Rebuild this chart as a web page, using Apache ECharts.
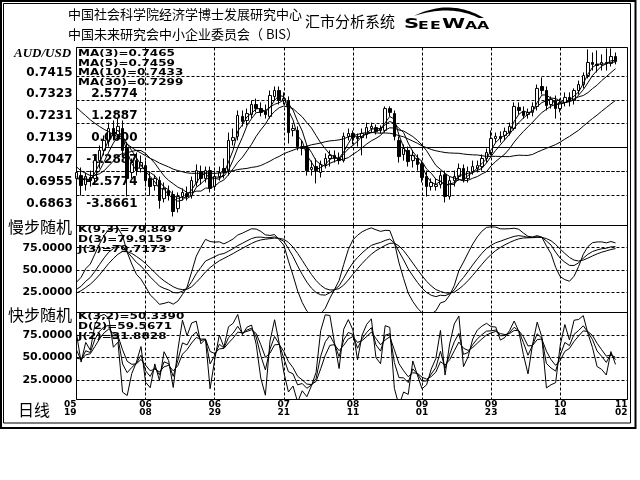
<!DOCTYPE html>
<html><head><meta charset="utf-8">
<script src="https://cdn.jsdelivr.net/npm/echarts@6/dist/echarts.min.js"></script>
<style>html,body{margin:0;padding:0;background:#fff}#c{width:640px;height:480px}</style>
</head><body><div id="c"></div>
<script>
// ---------- data ----------
const xTickLabels = ['05\n19','06\n08','06\n29','07\n21','08\n11','09\n01','09\n23','10\n14','11\n02'];
const priceGrid = [0.6863,0.6955,0.7047,0.7231,0.7323,0.7415];
const priceZero = 0.7139;
const kdGrid = [25,50,75];
const prevCloses = [0.7465,0.7482,0.7491,0.7474,0.7499,0.7486,0.7478,0.7486,0.7508,0.7499,0.7478,0.7449,0.7398,0.7339,0.7297,0.7272,0.7234,0.7204,0.7171,0.7137,0.7112,0.7078,0.7053,0.7036,0.7019,0.7002,0.6973,0.6952,0.6960];
const opens = [0.6969,0.6981,0.6943,0.6973,0.6969,0.7044,0.7087,0.7124,0.7179,0.7154,
0.7179,0.7095,0.6994,0.7044,0.7011,0.7023,0.6969,0.6939,0.6960,0.6884,
0.6918,0.6901,0.6842,0.6893,0.6905,0.6897,0.6952,0.6998,0.6969,0.7002,
0.6935,0.6977,0.7011,0.7002,0.7129,0.7146,0.7230,0.7213,0.7238,0.7280,
0.7263,0.7251,0.7230,0.7314,0.7339,0.7297,0.7297,0.7171,0.7171,0.7103,
0.7095,0.7007,0.7019,0.6994,0.7028,0.7053,0.7066,0.7053,0.7044,0.7146,
0.7158,0.7141,0.7141,0.7154,0.7179,0.7183,0.7171,0.7171,0.7263,0.7242,
0.7129,0.7070,0.7087,0.7044,0.7053,0.7028,0.6977,0.6935,0.6935,0.6943,
0.6985,0.6893,0.6960,0.6977,0.7011,0.6969,0.6998,0.7011,0.7019,0.7053,
0.7078,0.7137,0.7146,0.7150,0.7162,0.7179,0.7268,0.7251,0.7238,0.7247,
0.7272,0.7356,0.7339,0.7280,0.7297,0.7263,0.7289,0.7310,0.7297,0.7339,
0.7364,0.7402,0.7457,0.7449,0.7449,0.7457,0.7453,0.7482];
const closes = [0.6994,0.6939,0.6977,0.6960,0.7044,0.7087,0.7129,0.7179,0.7150,0.7188,
0.7087,0.6969,0.7036,0.7002,0.7036,0.6960,0.6935,0.6969,0.6876,0.6927,
0.6897,0.6830,0.6893,0.6910,0.6893,0.6960,0.7002,0.6969,0.7002,0.6927,
0.6977,0.6994,0.6994,0.7129,0.7141,0.7234,0.7209,0.7242,0.7280,0.7263,
0.7247,0.7238,0.7318,0.7339,0.7297,0.7305,0.7162,0.7179,0.7103,0.7095,
0.7002,0.7015,0.7002,0.7028,0.7053,0.7066,0.7053,0.7044,0.7146,0.7158,
0.7141,0.7137,0.7158,0.7183,0.7188,0.7167,0.7179,0.7263,0.7247,0.7146,
0.7061,0.7095,0.7040,0.7066,0.7028,0.6973,0.6935,0.6952,0.6943,0.6981,
0.6893,0.6960,0.6977,0.7011,0.6964,0.6998,0.7019,0.7023,0.7053,0.7078,
0.7137,0.7146,0.7137,0.7167,0.7188,0.7272,0.7255,0.7234,0.7247,0.7272,
0.7348,0.7339,0.7276,0.7301,0.7263,0.7289,0.7310,0.7297,0.7339,0.7364,
0.7402,0.7457,0.7449,0.7444,0.7457,0.7453,0.7482,0.7461];
const highs = [0.7011,0.7015,0.6994,0.7002,0.7066,0.7108,0.7150,0.7204,0.7213,0.7221,
0.7213,0.7120,0.7053,0.7078,0.7066,0.7044,0.6994,0.6985,0.6977,0.6952,
0.6939,0.6918,0.6910,0.6927,0.6935,0.6977,0.7028,0.7023,0.7019,0.7019,
0.7002,0.7019,0.7053,0.7162,0.7179,0.7255,0.7255,0.7263,0.7297,0.7305,
0.7289,0.7280,0.7339,0.7356,0.7356,0.7331,0.7314,0.7196,0.7188,0.7129,
0.7108,0.7044,0.7053,0.7044,0.7074,0.7087,0.7087,0.7078,0.7162,0.7179,
0.7171,0.7158,0.7179,0.7204,0.7204,0.7196,0.7192,0.7272,0.7272,0.7255,
0.7146,0.7112,0.7103,0.7087,0.7070,0.7044,0.7002,0.6969,0.6969,0.7002,
0.7002,0.6977,0.7002,0.7032,0.7028,0.7019,0.7044,0.7044,0.7070,0.7095,
0.7171,0.7162,0.7167,0.7183,0.7204,0.7289,0.7289,0.7272,0.7263,0.7289,
0.7364,0.7394,0.7356,0.7314,0.7318,0.7305,0.7331,0.7331,0.7348,0.7381,
0.7415,0.7512,0.7499,0.7508,0.7491,0.7516,0.7516,0.7499];
const lows = [0.6939,0.6897,0.6918,0.6935,0.6952,0.7011,0.7066,0.7103,0.7129,0.7129,
0.7066,0.6893,0.6969,0.6981,0.6994,0.6935,0.6897,0.6918,0.6842,0.6868,
0.6876,0.6809,0.6826,0.6876,0.6876,0.6884,0.6935,0.6943,0.6952,0.6910,
0.6918,0.6960,0.6969,0.6981,0.7108,0.7129,0.7188,0.7192,0.7221,0.7247,
0.7230,0.7221,0.7221,0.7297,0.7280,0.7280,0.7116,0.7146,0.7087,0.7066,
0.6981,0.6981,0.6948,0.6973,0.7011,0.7019,0.7036,0.7028,0.7036,0.7129,
0.7112,0.7103,0.7066,0.7137,0.7162,0.7154,0.7158,0.7162,0.7230,0.7129,
0.7036,0.7044,0.7019,0.7015,0.7002,0.6952,0.6893,0.6918,0.6918,0.6927,
0.6868,0.6880,0.6935,0.6960,0.6952,0.6952,0.6985,0.6994,0.7002,0.7036,
0.7066,0.7120,0.7120,0.7129,0.7150,0.7171,0.7238,0.7221,0.7221,0.7230,
0.7255,0.7322,0.7255,0.7263,0.7221,0.7247,0.7272,0.7272,0.7280,0.7322,
0.7348,0.7390,0.7423,0.7415,0.7423,0.7423,0.7440,0.7449];
const maPeriods = [3,5,10,30];
const maTexts = ['MA(3)=0.7465','MA(5)=0.7459','MA(10)=0.7433','MA(30)=0.7299'];
const slowTexts = ['K(9,3)=79.8497','D(3)=79.9159','J(3)=79.7173'];
const fastTexts = ['K(3,2)=50.3390','D(2)=59.5671','J(2)=31.8828'];
const slowStart = [22, 22];
const fastStart = [40, 40];

// ---------- derived indicators ----------
const allCloses = prevCloses.concat(closes);
function calcMA(n){
  const out=[];
  for(let i=0;i<closes.length;i++){
    let s=0; for(let j=0;j<n;j++) s+=allCloses[i+prevCloses.length-j];
    out.push([i, s/n]);
  }
  return out;
}
function rsvAt(i, n){
  let hh=-Infinity, ll=Infinity;
  for(let j=Math.max(0,i-n+1);j<=i;j++){ hh=Math.max(hh,highs[j]); ll=Math.min(ll,lows[j]); }
  return hh>ll ? (closes[i]-ll)/(hh-ll)*100 : 50;
}
// slow stochastic: raw K smoothed, then smoothed again (slow K), D of slow K
function calcSlowKD(n, m, k0, d0){
  const K=[],D=[],J=[]; let fk=k0, k=k0, d=d0;
  for(let i=0;i<closes.length;i++){
    fk=((m-1)*fk+rsvAt(i,n))/m; k=((m-1)*k+fk)/m; d=((m-1)*d+k)/m;
    K.push([i,k]); D.push([i,d]); J.push([i,3*k-2*d]);
  }
  return [K,D,J];
}
function calcFastKD(n, m, k0, d0){
  const K=[],D=[],J=[]; let k=k0, d=d0;
  for(let i=0;i<closes.length;i++){
    k=((m-1)*k+rsvAt(i,n))/m; d=((m-1)*d+k)/m;
    K.push([i,k]); D.push([i,d]); J.push([i,3*k-2*d]);
  }
  return [K,D,J];
}
const slowKD = calcSlowKD(9,3,slowStart[0],slowStart[1]);
const fastKD = calcFastKD(3,2,fastStart[0],fastStart[1]);
const candleData = closes.map((c,i)=>[i, opens[i], c, lows[i], highs[i]]);

// ---------- chart ----------
const chart = echarts.init(document.getElementById('c'), null, {renderer:'canvas'});
const NUM = '"DejaVu Sans"';
const CJK = '"Noto Sans CJK SC"';
const dot = [3,2];
const gridL = 76.5, gridW = 551;
const xMax = 119.6;
function xAxisDef(idx, showLabel){
  return {
    type:'value', gridIndex: idx, min:0, max:xMax, interval:15,
    axisLine:{show:false}, axisTick:{show:false},
    splitLine:{show:true, lineStyle:{color:'#000', width:1, type:dot}},
    axisLabel: showLabel ? {
      show:true, margin:1, color:'#000', fontFamily:NUM, fontWeight:'bold', fontSize:9, lineHeight:8,
      showMinLabel:true, showMaxLabel:true, alignMinLabel:'right', alignMaxLabel:'right',
      formatter: v => v > 110 ? xTickLabels[8] : xTickLabels[Math.round(v/15)]
    } : {show:false}
  };
}
function hLines(vals, solidVal){
  const data = vals.map(v=>({yAxis:v}));
  if (solidVal !== undefined) data.push({yAxis:solidVal, lineStyle:{type:'solid'}});
  return {silent:true, z:1, symbol:['none','none'], label:{show:false},
    lineStyle:{color:'#000', width:1, type:dot}, data};
}
function lineSeries(data, xi, yi, extra){
  return Object.assign({type:'line', xAxisIndex:xi, yAxisIndex:yi, data, symbol:'none', showSymbol:false,
    lineStyle:{color:'#000', width:1}, silent:true, z:3, clip:true}, extra||{});
}
const txt = (t,x,y,font,extra)=>Object.assign({type:'text', x, y, z:100, silent:true,
  style:{text:t, font, fill:'#000', align:'left', verticalAlign:'middle', textAlign:'left', textVerticalAlign:'middle'}}, extra||{});
const labelFont = 'bold 12px '+NUM;

// logo swoosh outline (two quadratic curves)
function quad(p0,p1,p2,n){ const pts=[]; for(let i=0;i<=n;i++){const t=i/n,a=(1-t)*(1-t),b=2*t*(1-t),c=t*t; pts.push([a*p0[0]+b*p1[0]+c*p2[0], a*p0[1]+b*p1[1]+c*p2[1]]);} return pts; }
const swoosh = quad([414,16],[450,-2],[484,18],24).concat(quad([479,18],[450,4],[414,16],24));

const graphics = [
  {type:'rect', z:100, silent:true, shape:{x:1, y:1, width:634.5, height:427}, style:{fill:'none', stroke:'#000', lineWidth:2}},
  {type:'rect', z:100, silent:true, shape:{x:3.5, y:3.5, width:627, height:419.5}, style:{fill:'none', stroke:'#000', lineWidth:1}},
  txt('中国社会科学院经济学博士发展研究中心', 68, 14, '13px '+CJK),
  txt('中国未来研究会中小企业委员会（ BIS）', 68, 34, '13px '+CJK),
  txt('汇市分析系统', 305, 21, '15px '+CJK),
  {type:'polygon', z:100, silent:true, shape:{points:swoosh}, style:{fill:'#000'}},
  {type:'group', x:404, y:31.5, scaleX:1.5, z:100, children:[
    {type:'text', x:0, y:0, style:{text:'S', font:'bold 14px '+NUM, fill:'#000', verticalAlign:'bottom', textVerticalAlign:'bottom'}},
    {type:'text', x:9.3, y:0, style:{text:'E', font:'bold 10.5px '+NUM, fill:'#000', verticalAlign:'bottom', textVerticalAlign:'bottom'}},
    {type:'text', x:17.3, y:0, style:{text:'E', font:'bold 10.5px '+NUM, fill:'#000', verticalAlign:'bottom', textVerticalAlign:'bottom'}},
    {type:'text', x:25.3, y:0, style:{text:'W', font:'bold 14px '+NUM, fill:'#000', verticalAlign:'bottom', textVerticalAlign:'bottom'}},
    {type:'text', x:40.7, y:0, style:{text:'A', font:'bold 10.5px '+NUM, fill:'#000', verticalAlign:'bottom', textVerticalAlign:'bottom'}},
    {type:'text', x:48.7, y:0, style:{text:'A', font:'bold 10.5px '+NUM, fill:'#000', verticalAlign:'bottom', textVerticalAlign:'bottom'}}
  ]},
  txt('AUD/USD', 14, 54, 'italic bold 13px "Liberation Serif"'),
  txt('慢步随机', 8, 226.5, '16px '+CJK),
  txt('快步随机', 8, 314.5, '16px '+CJK),
  txt('日线', 18, 409.5, '16px '+CJK)
];
maTexts.forEach((t,i)=>graphics.push(txt(t, 78, 53.5+i*9.6, labelFont, {scaleY:0.78})));
slowTexts.forEach((t,i)=>graphics.push(txt(t, 78, 229.5+i*10, labelFont, {scaleY:0.78})));
fastTexts.forEach((t,i)=>graphics.push(txt(t, 78, 316.7+i*10, labelFont, {scaleY:0.78})));

const option = {
  animation:false,
  backgroundColor:'#fff',
  grid:[
    {left:gridL, top:47.5, width:gridW, height:178, show:true, borderColor:'#000', borderWidth:1, backgroundColor:'transparent'},
    {left:gridL, top:225.5, width:gridW, height:87, show:true, borderColor:'#000', borderWidth:1, backgroundColor:'transparent'},
    {left:gridL, top:312.5, width:gridW, height:87, show:true, borderColor:'#000', borderWidth:1, backgroundColor:'transparent'}
  ],
  xAxis:[xAxisDef(0,false), xAxisDef(1,false), xAxisDef(2,true)],
  yAxis:[
    {type:'value', gridIndex:0, min:0.6771, max:0.7520, interval:0.0092, position:'left',
      axisLine:{show:false}, axisTick:{show:false}, splitLine:{show:false},
      axisLabel:{margin:4, color:'#000', fontFamily:NUM, fontWeight:'bold', fontSize:12,
        formatter: v => (v>0.68 && v<0.745) ? v.toFixed(4) : ''}},
    {type:'value', gridIndex:0, min:-5.1548, max:5.3369, interval:1.2887, position:'left',
      axisLine:{show:false}, axisTick:{show:false}, splitLine:{show:false},
      axisLabel:{inside:true, align:'right', margin:61, color:'#000', fontFamily:NUM, fontWeight:'bold', fontSize:12,
        formatter: v => (v>-3.9 && v<2.6) ? (Math.abs(v)<1e-6 ? '0.0000' : v.toFixed(4)) : ''}},
    {type:'value', gridIndex:1, min:2, max:100, position:'left',
      axisLine:{show:false}, axisTick:{show:false, customValues:kdGrid}, splitLine:{show:false},
      axisLabel:{customValues:kdGrid, margin:4, color:'#000', fontFamily:NUM, fontWeight:'bold', fontSize:11,
        formatter: v => v.toFixed(4)}},
    {type:'value', gridIndex:2, min:3, max:100, position:'left',
      axisLine:{show:false}, axisTick:{show:false, customValues:kdGrid}, splitLine:{show:false},
      axisLabel:{customValues:kdGrid, margin:4, color:'#000', fontFamily:NUM, fontWeight:'bold', fontSize:11,
        formatter: v => v.toFixed(4)}}
  ],
  series:[
    {type:'candlestick', xAxisIndex:0, yAxisIndex:0, data:candleData, barWidth:3, silent:true, z:2,
      itemStyle:{color:'#fff', color0:'#000', borderColor:'#000', borderColor0:'#000', borderWidth:1},
      markLine:hLines(priceGrid, priceZero)},
    ...maPeriods.map(n=>lineSeries(calcMA(n),0,0)),
    lineSeries(slowKD[0],1,2,{markLine:hLines(kdGrid)}),
    lineSeries(slowKD[1],1,2),
    lineSeries(slowKD[2],1,2),
    lineSeries(fastKD[0],2,3,{markLine:hLines(kdGrid)}),
    lineSeries(fastKD[1],2,3),
    lineSeries(fastKD[2],2,3)
  ],
  graphic:graphics
};
chart.setOption(option);
</script></body></html>
